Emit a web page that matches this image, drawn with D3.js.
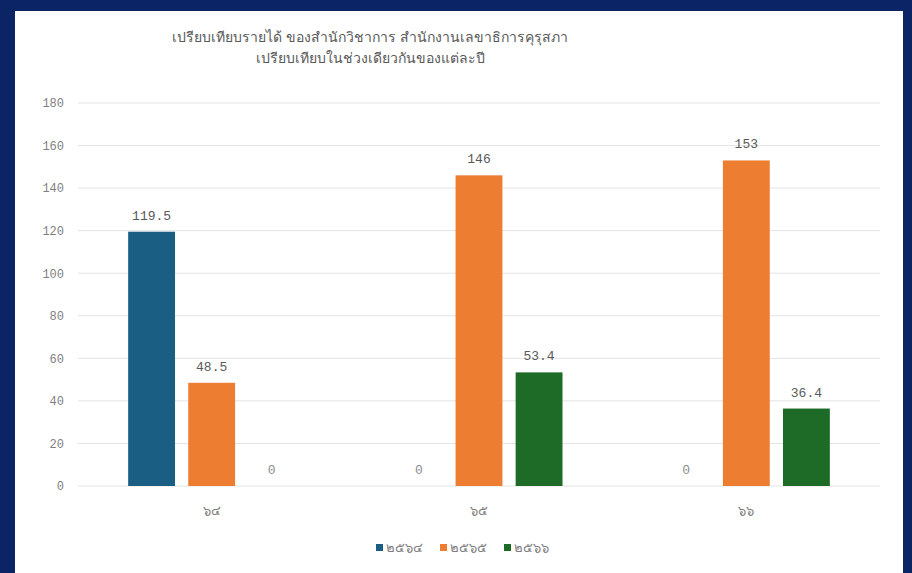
<!DOCTYPE html>
<html lang="th">
<head>
    <meta charset="UTF-8">
    <title>Bar chart</title>
    <script src="https://d3js.org/d3.v7.min.js"></script>
    <style>
        body {
            margin: 0;
            padding: 0;
            background-color: #0b2466;
        }
        svg {
            display: block;
        }
    </style>
</head>
<body>
    <svg id="chart" width="912" height="573"></svg>

    <script>
        // data
        const categories = ["๖๔", "๖๕", "๖๖"];
        const seriesNames = ["๒๕๖๔", "๒๕๖๕", "๒๕๖๖"];
        const seriesValues = [
            [119.5, 0, 0],
            [48.5, 146, 153],
            [0, 53.4, 36.4]
        ];
        const yTicks = [0, 20, 40, 60, 80, 100, 120, 140, 160, 180];
        const titleLines = [
            "เปรียบเทียบรายได้ ของสำนักวิชาการ สำนักงานเลขาธิการคุรุสภา",
            "เปรียบเทียบในช่วงเดียวกันของแต่ละปี"
        ];
        const colors = ["#1b5e84", "#ed7d31", "#1d6b26"];

        const svg = d3.select("#chart");
        const textColor = "#7f7f7f";
        const mono = "'Liberation Mono', 'DejaVu Sans Mono', monospace";

        // white panel
        svg.append("rect")
            .attr("x", 15).attr("y", 11)
            .attr("width", 888).attr("height", 562)
            .attr("fill", "#ffffff");

        const plot = { left: 78, right: 880, top: 103, bottom: 486 };

        const x0 = d3.scaleBand()
            .domain(categories)
            .range([plot.left, plot.right]);

        const x1 = d3.scaleBand()
            .domain(d3.range(seriesNames.length))
            .range([0, x0.bandwidth()])
            .paddingInner(0.22)
            .paddingOuter(0.835);

        const y = d3.scaleLinear()
            .domain([0, 180])
            .range([plot.bottom, plot.top]);

        // gridlines
        svg.append("g")
            .selectAll("line")
            .data(yTicks)
            .join("line")
            .attr("x1", plot.left).attr("x2", plot.right)
            .attr("y1", d => y(d)).attr("y2", d => y(d))
            .attr("stroke", "#e3e3e3")
            .attr("stroke-width", 1);

        // y axis labels
        const yAxis = d3.axisLeft(y).tickValues(yTicks).tickSize(0).tickPadding(14);
        const gy = svg.append("g")
            .attr("transform", `translate(${plot.left},0)`)
            .call(yAxis);
        gy.select(".domain").remove();
        gy.selectAll("text")
            .attr("fill", textColor)
            .attr("font-family", mono)
            .attr("font-size", "12px");

        // x axis labels
        const xAxis = d3.axisBottom(x0).tickSize(0).tickPadding(20);
        const gx = svg.append("g")
            .attr("transform", `translate(0,${plot.bottom})`)
            .call(xAxis);
        gx.select(".domain").remove();
        gx.selectAll("text")
            .attr("fill", textColor)
            .attr("font-family", "'Noto Sans', sans-serif")
            .attr("font-size", "13px");

        // bars
        const groups = svg.append("g")
            .selectAll("g")
            .data(categories)
            .join("g")
            .attr("transform", d => `translate(${x0(d)},0)`);

        groups.selectAll("rect")
            .data((d, ci) => seriesValues.map((vals, si) => ({ si, v: vals[ci] })))
            .join("rect")
            .attr("x", d => x1(d.si))
            .attr("y", d => y(d.v))
            .attr("width", x1.bandwidth())
            .attr("height", d => y(0) - y(d.v))
            .attr("fill", d => colors[d.si]);

        groups.selectAll("text")
            .data((d, ci) => seriesValues.map((vals, si) => ({ si, v: vals[ci] })))
            .join("text")
            .attr("x", d => x1(d.si) + x1.bandwidth() / 2)
            .attr("y", d => y(d.v) - 12)
            .attr("text-anchor", "middle")
            .attr("fill", d => d.v === 0 ? "#8c8c8c" : "#595959")
            .attr("font-family", mono)
            .attr("font-size", "13px")
            .text(d => d.v);

        // title
        svg.append("g")
            .selectAll("text")
            .data(titleLines)
            .join("text")
            .attr("x", 370)
            .attr("y", (d, i) => 42 + i * 21)
            .attr("text-anchor", "middle")
            .attr("fill", "#595959")
            .attr("font-family", "'Noto Sans', sans-serif")
            .attr("font-size", "14px")
            .text(d => d);

        // legend
        const legendX = [376, 440, 504];
        const legend = svg.append("g")
            .selectAll("g")
            .data(seriesNames)
            .join("g")
            .attr("transform", (d, i) => `translate(${legendX[i]},548)`);

        legend.append("rect")
            .attr("x", 0).attr("y", -4)
            .attr("width", 7).attr("height", 7)
            .attr("fill", (d, i) => colors[i]);

        legend.append("text")
            .attr("x", 10).attr("y", 4)
            .attr("fill", textColor)
            .attr("font-family", "'Noto Sans', sans-serif")
            .attr("font-size", "13px")
            .text(d => d);
    </script>
</body>
</html>
